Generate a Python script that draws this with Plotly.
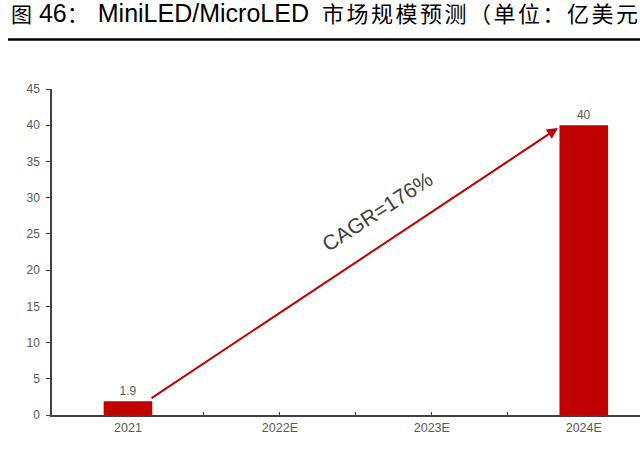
import plotly.graph_objects as go

# market size, 100m USD
years = ["2021", "2022E", "2023E", "2024E"]
market = [1.9, None, None, 40]
labels = ["1.9", "", "", "40"]

cagr_text = "CAGR=176%"

RED = "#c00000"
GREY = "#595959"
CJK = "font-size:22px;letter-spacing:2.5px"

title = (
    '<span style="font-size:21px">图</span> 46'
    '<span style="font-size:22px;letter-spacing:9px">：</span>'
    'MiniLED/MicroLED'
    '<span style="letter-spacing:6px"> </span>'
    f'<span style="{CJK}">市场规模预测（单位：亿美元）</span>'
)

fig = go.Figure()
fig.add_trace(go.Bar(
    x=years, y=market,
    width=0.32,
    marker=dict(color=RED, line=dict(width=0)),
    text=labels, textposition="outside", cliponaxis=False,
    textfont=dict(family="Arial, Liberation Sans", size=12, color=GREY),
))
# empty trace so the overlay axis (centre ticks) gets drawn
fig.add_trace(go.Scatter(x=[], y=[], xaxis="x2", hoverinfo="skip"))

# growth arrow from the 2021 bar to the 2024E bar
fig.add_annotation(
    x=2.83, y=39.6, ax=0.145, ay=2.2,
    xref="x", yref="y", axref="x", ayref="y",
    showarrow=True, arrowhead=2, arrowsize=1.1, arrowwidth=2,
    arrowcolor=RED, text="",
)
fig.add_annotation(
    x=1.64, y=28.1, xref="x", yref="y",
    text=cagr_text, showarrow=False, textangle=-33,
    font=dict(family="Arial, Liberation Sans", size=21, color="#404040"),
)

# title and rule under it
fig.add_annotation(
    x=-0.0725, y=1.232, xref="paper", yref="paper", xanchor="left", yanchor="middle",
    text=title, showarrow=False,
    font=dict(family="Arial, Noto Sans CJK SC", size=25, color="#000000"),
)
fig.add_shape(
    type="line", xref="paper", yref="paper",
    x0=-0.0748, x1=1.0, y0=1.152, y1=1.152,
    line=dict(color="#000000", width=2.5),
)

fig.update_layout(
    width=640, height=454,
    margin=dict(l=52, r=0, t=89, b=39),
    plot_bgcolor="white", paper_bgcolor="white",
    showlegend=False,
    font=dict(family="Arial, Liberation Sans", size=12, color=GREY),
    xaxis=dict(
        range=[-0.5, 3.37], showline=True, linecolor="#404040", linewidth=1.5,
        ticks="inside", ticklen=3, tickcolor="#404040", tickson="boundaries",
        tickfont=dict(size=12.5, color=GREY), showgrid=False,
    ),
    # second axis only for the small ticks under each category
    xaxis2=dict(
        overlaying="x", anchor="y", side="bottom", range=[-0.5, 3.37],
        tickvals=list(range(len(years))), showticklabels=False,
        ticks="inside", ticklen=3, tickcolor="#404040",
        showgrid=False, zeroline=False, showline=False,
    ),
    yaxis=dict(
        range=[0, 45], dtick=5, showline=True, linecolor="#404040", linewidth=1.5,
        ticks="outside", ticklen=4, tickcolor="#404040", ticklabelstandoff=4,
        tickfont=dict(size=12, color=GREY), showgrid=False, zeroline=False,
    ),
)

# page body has a default 8px margin; drop it so the figure sits at 0,0
fig.write_html("out.html", config={"displayModeBar": False},
               post_script="document.body.style.margin='0';")
